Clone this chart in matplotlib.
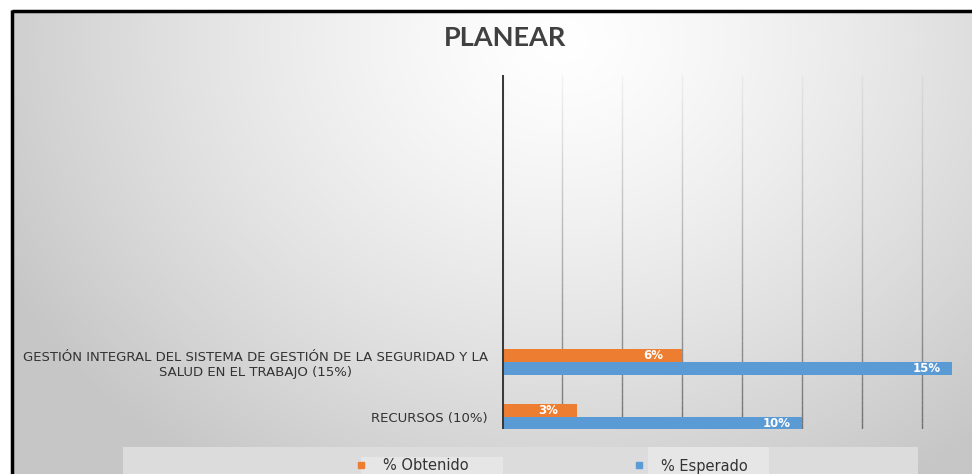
import numpy as np
import matplotlib
matplotlib.use("Agg")
import matplotlib.pyplot as plt
from matplotlib import font_manager
from matplotlib.patches import Rectangle
from matplotlib.lines import Line2D
from matplotlib.collections import LineCollection

# ---------------- data ----------------
categories = ["RECURSOS (10%)",
              "GESTIÓN INTEGRAL DEL SISTEMA DE GESTIÓN DE LA SEGURIDAD Y LA\nSALUD EN EL TRABAJO (15%)"]
obtenido = [2.5, 6.0]
esperado = [10.0, 15.0]
series_names = ["% Obtenido", "% Esperado"]
title = "PLANEAR"

# ---------------- fonts ----------------
available = {f.name for f in font_manager.fontManager.ttflist}
narrow = "Liberation Sans Narrow" if "Liberation Sans Narrow" in available else "DejaVu Sans"
cal = "Lato" if "Lato" in available else "DejaVu Sans"

W, H = 972, 474
fig = plt.figure(figsize=(W / 100, H / 100), dpi=100)
fig.patch.set_facecolor("white")

# background radial gradient (inside border)
bg = fig.add_axes([0, 0, 1, 1], zorder=-10)
yy, xx = np.mgrid[0:H, 0:W]
d = np.sqrt(((xx - 560) / 620.0) ** 2 + ((yy - 40) / 520.0) ** 2)
val = 1.0 - 0.22 * np.clip(d, 0, 1) ** 1.3
img = np.dstack([val, val, val])
img[:10, :, :] = 1.0
img[:, :11, :] = 1.0
bg.imshow(img, extent=[0, W, H, 0], aspect="auto", interpolation="bilinear")
bg.set_xlim(0, W)
bg.set_ylim(H, 0)
bg.axis("off")
# border lines
bg.plot([11.5, W], [11, 11], color="black", lw=2.5, solid_capstyle="butt")
bg.plot([12, 12], [10, H], color="black", lw=2.5, solid_capstyle="butt")

# legend boxes
bg.add_patch(Rectangle((123, 447), 795, 40, facecolor="#dcdcdc", edgecolor="none"))
bg.add_patch(Rectangle((361, 457), 142, 30, facecolor="#e6e6e6", edgecolor="none"))
bg.add_patch(Rectangle((648, 447), 121, 40, facecolor="#e6e6e6", edgecolor="none"))

# ---------------- main axes ----------------
left, right, top, bottom = 502, 952, 75, 429
ax = fig.add_axes([left / W, 1 - bottom / H, (right - left) / W, (bottom - top) / H])
ax.set_facecolor("none")

y = np.arange(len(categories))
h = 0.235
orange = "#ED7D31"
blue = "#5B9BD5"
b1 = ax.barh(y + h / 2, obtenido, height=h, color=orange, edgecolor="none", zorder=3)
b2 = ax.barh(y - h / 2, esperado, height=h, color=blue, edgecolor="none", zorder=3)

ax.set_xlim(0, 15)
ax.set_ylim(-0.215, 6.22)

def fmt(v):
    return f"{int(v + 0.5)}%"

for bars, vals in ((b1, obtenido), (b2, esperado)):
    ax.bar_label(bars, labels=[fmt(v) for v in vals], label_type="edge", padding=-28,
                 color="white", fontsize=8.5, fontweight="bold", family=narrow, zorder=4)

# gridlines with vertical fade
ticks = np.arange(2, 15, 2)
n = 60
ys = np.linspace(-0.215, 6.22, n + 1)
segs, cols = [], []
for t in ticks:
    for i in range(n):
        segs.append([(t, ys[i]), (t, ys[i + 1])])
        frac = i / n
        a = 0.75 * (1 - frac) ** 1.1 + 0.05
        cols.append((0.35, 0.35, 0.35, a))
ax.add_collection(LineCollection(segs, colors=cols, linewidths=1.0, zorder=1))

ax.axvline(0, color="#3a3a3a", lw=2.2, zorder=5)

for s in ax.spines.values():
    s.set_visible(False)
ax.set_xticks([])
ax.set_yticks(y)
ax.set_yticklabels(categories, fontsize=9.5, family=narrow, color="#333333",
                   multialignment="center")
ax.tick_params(axis="y", length=0, pad=10)

fig.text(505 / W, 1 - 38 / H, title, ha="center", va="center", fontsize=19.5,
         fontweight="bold", color="#404040", family=cal)

handles = [Line2D([], [], marker="s", ls="none", color=orange, markersize=4),
           Line2D([], [], marker="s", ls="none", color=blue, markersize=4)]
leg = fig.legend(handles, series_names, loc="center", ncol=2,
                 bbox_to_anchor=(552 / W, 1 - 466 / H), frameon=False,
                 prop={"family": narrow, "size": 10.5}, handlelength=0.6,
                 handletextpad=1.2, columnspacing=11.4)
for t in leg.get_texts():
    t.set_color("#333333")

fig.savefig("out.png", dpi=100)
